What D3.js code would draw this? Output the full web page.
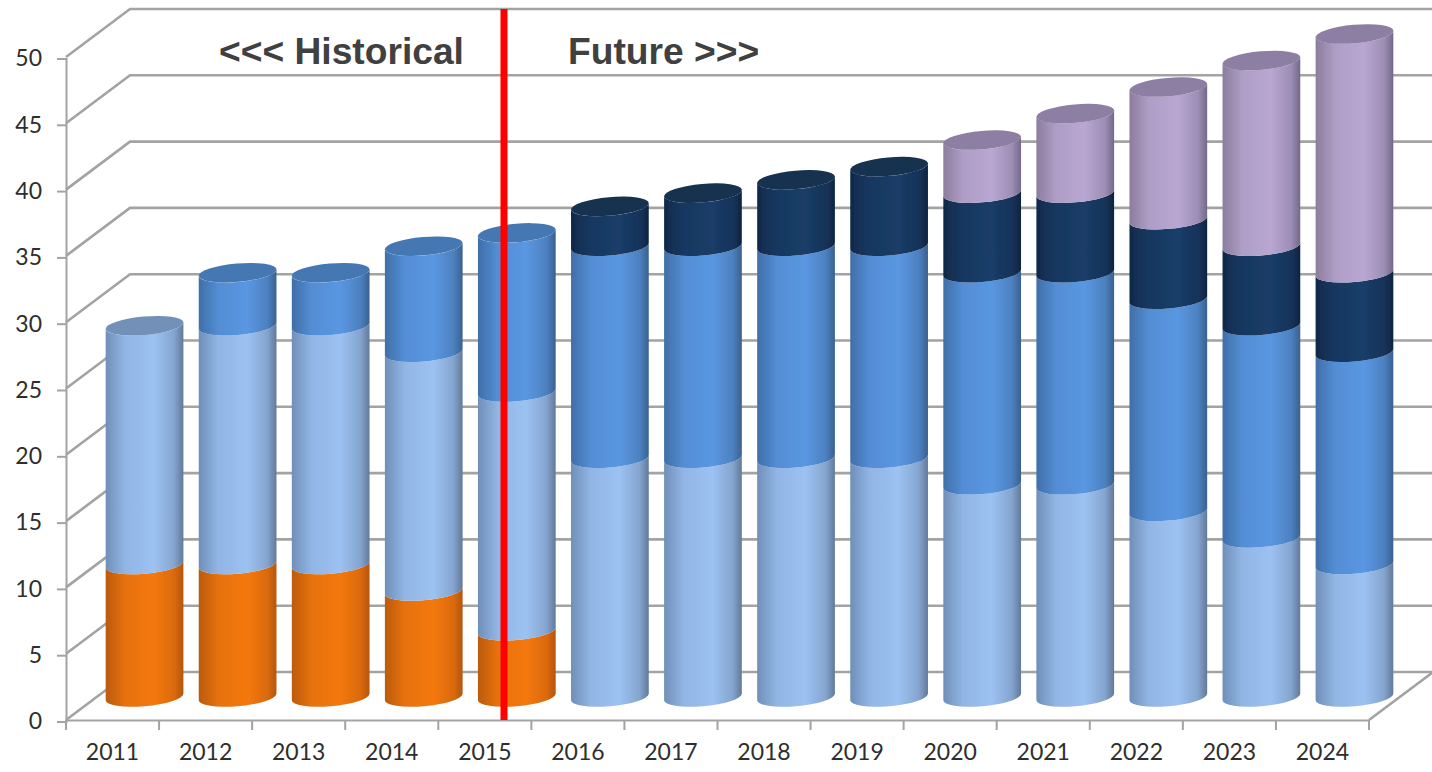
<!DOCTYPE html>
<html lang="en">
<meta charset="utf-8">
<title>Historical and Future stacked cylinders</title>
<style>
	html, body { margin: 0; padding: 0; background: #fff; overflow: hidden; }
	svg { display: block; }
	.tick text { font-family: Lato, "Open Sans", sans-serif; font-size: 23px; fill: #2e2e2e; }
	.tick line, .domain { stroke: #a3a3a3; stroke-width: 2; }
	.grid { stroke: #a3a3a3; stroke-width: 2.6; fill: none; }
	.note { font-family: "Liberation Sans", Arial, sans-serif; font-weight: bold; font-size: 37.2px; fill: #404040; }
</style>
<body>
<svg class="chart" width="1432" height="772"></svg>
<script src="https://d3js.org/d3.v7.min.js"></script>
<script>
	var years = ["2011","2012","2013","2014","2015","2016","2017","2018","2019","2020","2021","2022","2023","2024"];
	var orange = [10,10,10,8,5,0,0,0,0,0,0,0,0,0];
	var light  = [18,18,18,18,18,18,18,18,18,16,16,14,12,10];
	var mid    = [0,4,4,8,12,16,16,16,16,16,16,16,16,16];
	var dark   = [0,0,0,0,0,3,4,5,6,6,6,6,6,6];
	var purple = [0,0,0,0,0,0,0,0,0,4,6,10,14,18];
	var yTicks = [0,5,10,15,20,25,30,35,40,45,50];
	var seriesNames = ["orange","light","mid","dark","purple"];
	var seriesValues = [orange, light, mid, dark, purple];

	// colours: edge, highlight, far edge, top cap
	var colors = {
		orange: ["#bb5a0c", "#f4780c", "#b5560e", "#c8650f"],
		light:  ["#6f8fb8", "#9cc2f2", "#62799a", "#7391b8"],
		mid:    ["#3f6fa8", "#5a97e2", "#39618f", "#4577b2"],
		dark:   ["#10294a", "#1a3d68", "#0f2542", "#13304f"],
		purple: ["#8b7d9c", "#b9a7d2", "#74688a", "#8d7ea3"]
	};

	var svg = d3.select(".chart");

	var x = d3.scaleBand().domain(years).range([66, 1369]);
	var y = d3.scaleLinear().domain([0, 50]).range([720, 57]);

	// depth of the 3d box, and the cylinder shape
	var depthX = 64, depthY = -48;
	var rx = 39, ry = 9.2, tilt = -5 * Math.PI / 180;

	var defs = svg.append("defs");
	seriesNames.forEach(function(n) {
		var g = defs.append("linearGradient").attr("id", "grad-" + n);
		g.append("stop").attr("offset", "0%").attr("stop-color", colors[n][0]);
		g.append("stop").attr("offset", "25%").attr("stop-color", d3.interpolateRgb(colors[n][0], colors[n][1])(0.75));
		g.append("stop").attr("offset", "62%").attr("stop-color", colors[n][1]);
		g.append("stop").attr("offset", "88%").attr("stop-color", d3.interpolateRgb(colors[n][2], colors[n][1])(0.6));
		g.append("stop").attr("offset", "100%").attr("stop-color", colors[n][2]);
	});
	// the reference is a soft screenshot, so take the hard edge off the marks
	defs.append("filter").attr("id", "soft")
		.attr("x", "-5%").attr("y", "-5%").attr("width", "110%").attr("height", "110%")
	  .append("feGaussianBlur").attr("stdDeviation", 0.7);

	// walls and floor
	var gridLine = d3.line();
	svg.selectAll(".grid")
		.data(yTicks)
	  .enter().append("path")
		.attr("class", "grid")
		.attr("d", function(d) {
			return gridLine([[66, y(d)], [66 + depthX, y(d) + depthY], [1432, y(d) + depthY]]);
		});
	svg.append("path").attr("class", "grid")
		.attr("d", gridLine([[1369, y(0)], [1369 + depthX, y(0) + depthY]]));

	// axes
	var xAxis = d3.axisBottom(x).tickSize(0).tickPadding(24);
	var yAxis = d3.axisLeft(y).tickValues(yTicks).tickSize(9).tickPadding(15);
	svg.append("g").attr("transform", "translate(0,720)").call(xAxis);
	svg.append("g").attr("transform", "translate(66,1.5)").call(yAxis);
	svg.selectAll(".boundary")
		.data(d3.range(years.length + 1))
	  .enter().append("line")
		.attr("x1", function(i) { return 66 + i * x.step(); })
		.attr("x2", function(i) { return 66 + i * x.step(); })
		.attr("y1", 720).attr("y2", 730)
		.attr("stroke", "#a3a3a3").attr("stroke-width", 2);

	// tangent points of the tilted ellipse where the cylinder sides touch
	var t0 = Math.atan2(-ry * Math.sin(tilt), rx * Math.cos(tilt));
	var ex = rx * Math.cos(t0) * Math.cos(tilt) - ry * Math.sin(t0) * Math.sin(tilt);
	var ey = rx * Math.cos(t0) * Math.sin(tilt) + ry * Math.sin(t0) * Math.cos(tilt);
	var deg = tilt * 180 / Math.PI;

	// cylinders stand in the middle of the depth
	var midY = depthY / 2 + 1;

	function body(cx, v0, v1) {
		var yb = y(v0) + midY, yt = y(v1) + midY;
		return "M" + (cx - ex) + "," + (yb - ey) +
			"L" + (cx - ex) + "," + (yt - ey) +
			"A" + rx + "," + ry + " " + deg + " 0 0 " + (cx + ex) + "," + (yt + ey) +
			"L" + (cx + ex) + "," + (yb + ey) +
			"A" + rx + "," + ry + " " + deg + " 0 1 " + (cx - ex) + "," + (yb - ey) + "Z";
	}

	var bars = svg.selectAll(".bar")
		.data(years)
	  .enter().append("g")
		.attr("class", "bar")
		.attr("filter", "url(#soft)");

	bars.each(function(year, i) {
		var g = d3.select(this);
		var cx = x(year) + x.bandwidth() / 2 + depthX / 2;
		var base = 0, last = null;
		seriesNames.forEach(function(n, s) {
			var v = seriesValues[s][i];
			if (!v) return;
			g.append("path")
				.attr("d", body(cx, base, base + v))
				.attr("fill", "url(#grad-" + n + ")");
			base += v;
			last = n;
		});
		g.append("ellipse")
			.attr("rx", rx).attr("ry", ry)
			.attr("transform", "translate(" + cx + "," + (y(base) + midY) + ") rotate(" + deg + ")")
			.attr("fill", colors[last][3]);
	});

	// historical / future divider
	svg.append("line")
		.attr("x1", 504).attr("x2", 504)
		.attr("y1", 9).attr("y2", 720)
		.attr("stroke", "#ff0000").attr("stroke-width", 7);

	svg.append("text").attr("class", "note").attr("x", 219).attr("y", 64).text("<<< Historical");
	svg.append("text").attr("class", "note").attr("x", 568).attr("y", 64).text("Future >>>");
</script>
</body>
</html>
